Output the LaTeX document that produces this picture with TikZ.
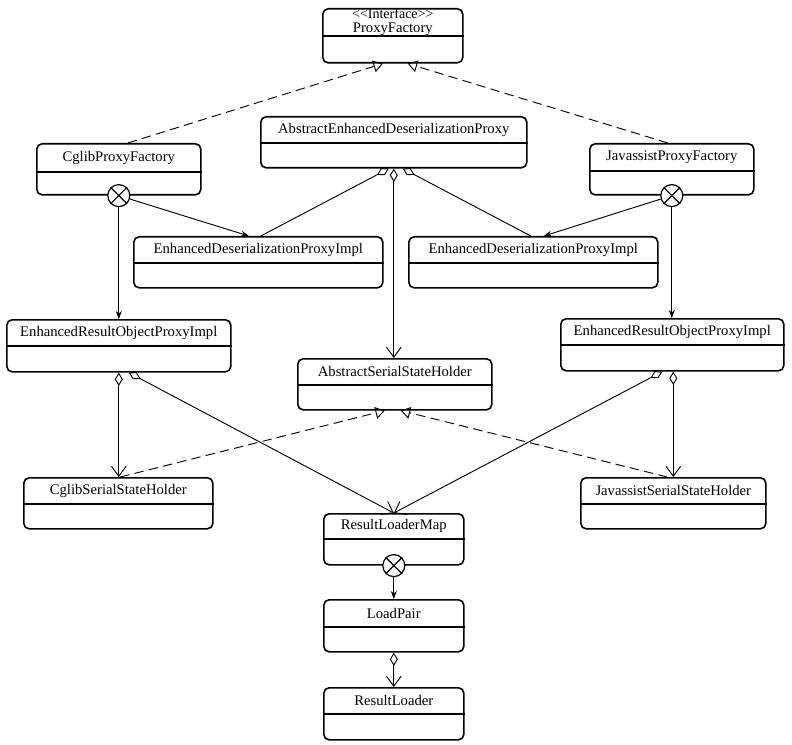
\documentclass[tikz,border=0pt]{standalone}
\usepackage{fontspec}
\setmainfont{Liberation Serif}
\usetikzlibrary{arrows.meta,calc}
\tikzset{
 cls/.style={draw, rounded corners=4pt, line width=1.2pt, inner sep=0pt, fill=white},
 divl/.style={line width=1pt},
 lbl/.style={inner sep=0pt, font=\fontsize{11}{11}\selectfont, align=center},
 conn/.style={line width=0.7pt},
 agg/.style={conn, {Diamond[open,length=10pt,width=6pt]}-{Straight Barb[length=7.5pt,width=11pt]}},
 aggplain/.style={conn, {Diamond[open,length=10pt,width=6pt]}-},
 real/.style={conn, dash pattern=on 7pt off 4pt, -{Triangle[open,length=7pt,width=9pt]}},
 comp/.style={conn, -{Stealth[length=6pt,width=4.5pt]}},
 xc/.style={circle, draw, line width=0.9pt, fill=white, minimum size=16.5pt, inner sep=0pt},
}
\newcommand\umlclass[7]{%
 \node[cls, minimum width=#4*0.75pt, minimum height=#5*0.75pt, anchor=north west] (#1) at (#2,#3) {};
 \draw[divl] ($(#1.north west)+(0,#6)$) -- ($(#1.north east)+(0,#6)$);
 \node[lbl] (#1t) at ($(#1.north)+(0,{#6/2})$) {#7};
}
\newcommand\xcircle[2]{%
 \node[xc] (#1) at (#2) {};
 \draw[line width=0.9pt] (#1.north east) -- (#1.south west) (#1.north west) -- (#1.south east);
}
\begin{document}
\begin{tikzpicture}[x=0.75pt, y=-0.75pt]
\useasboundingbox (0,0) rectangle (792,745);
\umlclass{pf}{322}{8}{140}{54}{28}{\fontsize{10.5}{9.5}\selectfont{<}{<}Interface{>}{>}\\ProxyFactory}
\umlclass{cglib}{36}{143}{164}{51}{29}{CglibProxyFactory}
\umlclass{aedp}{260}{116}{266}{51}{27}{AbstractEnhancedDeserializationProxy}
\umlclass{java}{589}{143}{164}{51}{28}{JavassistProxyFactory}
\umlclass{edpl}{133}{236}{249}{51}{27}{EnhancedDeserializationProxyImpl}
\umlclass{edpr}{408}{236}{249}{51}{27}{EnhancedDeserializationProxyImpl}
\umlclass{eropl}{6}{319}{224}{52}{27}{EnhancedResultObjectProxyImpl}
\umlclass{eropr}{560}{318}{223}{52}{27}{EnhancedResultObjectProxyImpl}
\umlclass{assh}{297}{358}{194}{51}{27}{AbstractSerialStateHolder}
\umlclass{cssh}{23}{477}{189}{51}{27}{CglibSerialStateHolder}
\umlclass{jssh}{580}{477}{185}{51}{27}{JavassistSerialStateHolder}
\umlclass{rlm}{323}{513}{140}{51}{26}{ResultLoaderMap}
\umlclass{lp}{323}{599}{140}{52}{28}{LoadPair}
\umlclass{rl}{323}{687}{140}{52}{27}{ResultLoader}
\xcircle{cgc}{cglib.south}
\xcircle{jvc}{java.south}
\xcircle{rlc}{rlm.south}
% realizations
\draw[real] ($(cglib.north)+(9,0)$) -- ($(pf.south)+(-10,0)$);
\draw[real] ($(java.north)+(-4,0)$) -- ($(pf.south)+(15,0)$);
\draw[real] ($(cssh.north)+(2,0)$) -- ($(assh.south)+(-10,0)$);
\draw[real] ($(jssh.north)+(-6,0)$) -- ($(assh.south)+(6,0)$);
% aggregations from AbstractEnhancedDeserializationProxy
\draw[aggplain] ($(aedp.south)+(-5,0)$) -- ($(edpl.north)+(2.5,0)$);
\draw[aggplain] ($(aedp.south)+(9,0)$) -- ($(edpr.north)+(-2.5,0)$);
\draw[agg] (aedp.south) -- (aedp.south |- assh.north);
% compositions
\draw[comp] (cgc) -- ($(edpl.north)+(-9.5,0)$);
\draw[comp] (cgc) -- (cgc |- eropl.north);
\draw[comp] (jvc) -- ($(edpr.north)+(10.5,0)$);
\draw[comp] (jvc) -- (jvc |- eropr.north);
\draw[comp] (rlc) -- (rlc |- lp.north);
% aggregations from EnhancedResultObjectProxyImpl
\draw[agg] (eropl.south) -- (eropl.south |- cssh.north);
\draw[agg] ($(eropl.south)+(10,0)$) -- (rlm.north);
\coordinate (er2) at ($(eropr.south)+(1,0)$);
\draw[agg] ($(eropr.south)+(-10,0)$) -- (rlm.north);
\draw[agg] (er2) -- (er2 |- jssh.north);
\draw[agg] (lp.south) -- (rl.north);
\end{tikzpicture}
\end{document}
